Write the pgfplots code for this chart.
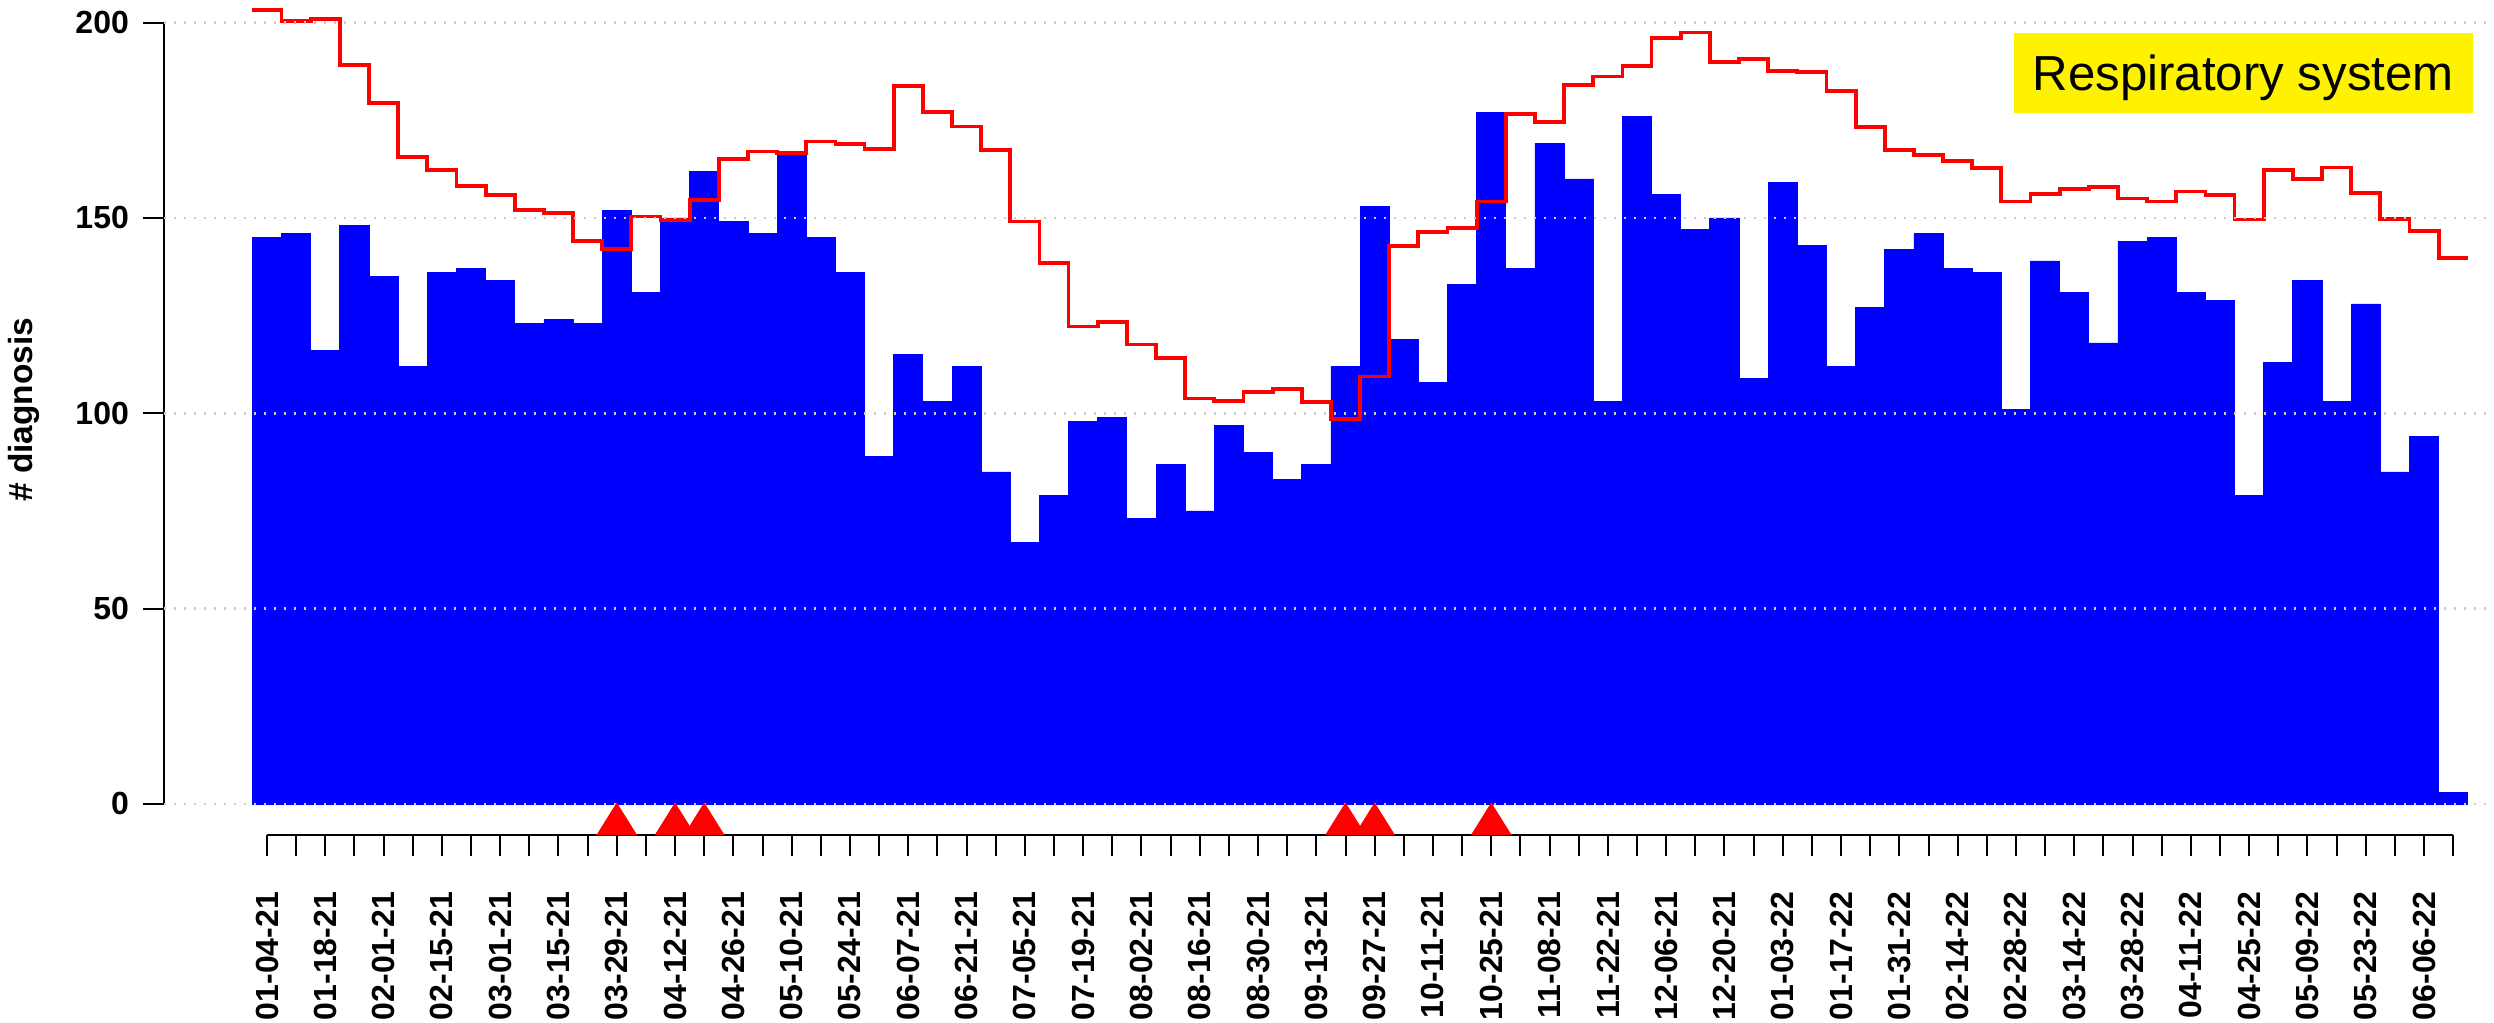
\documentclass[border=0pt]{standalone}
\usepackage{pgfplots}
\pgfplotsset{compat=1.18}
\usepackage{fontspec}
\setmainfont{Liberation Sans}

\pgfplotstableread{
x v
-0.5 145
0.5 146
1.5 116
2.5 148
3.5 135
4.5 112
5.5 136
6.5 137
7.5 134
8.5 123
9.5 124
10.5 123
11.5 152
12.5 131
13.5 150
14.5 162
15.5 149
16.5 146
17.5 166
18.5 145
19.5 136
20.5 89
21.5 115
22.5 103
23.5 112
24.5 85
25.5 67
26.5 79
27.5 98
28.5 99
29.5 73
30.5 87
31.5 75
32.5 97
33.5 90
34.5 83
35.5 87
36.5 112
37.5 153
38.5 119
39.5 108
40.5 133
41.5 177
42.5 137
43.5 169
44.5 160
45.5 103
46.5 176
47.5 156
48.5 147
49.5 150
50.5 109
51.5 159
52.5 143
53.5 112
54.5 127
55.5 142
56.5 146
57.5 137
58.5 136
59.5 101
60.5 139
61.5 131
62.5 118
63.5 144
64.5 145
65.5 131
66.5 129
67.5 79
68.5 113
69.5 134
70.5 103
71.5 128
72.5 85
73.5 94
74.5 3
75.5 3
}\bars

\pgfplotstableread{
x r
-0.5 203.2
0.5 200.5
1.5 201
2.5 189.1
3.5 179.4
4.5 165.7
5.5 162.2
6.5 158.1
7.5 155.8
8.5 152
9.5 151.2
10.5 144.2
11.5 142
12.5 150.4
13.5 149.4
14.5 154.5
15.5 165
16.5 167
17.5 166.7
18.5 169.6
19.5 169
20.5 167.6
21.5 183.8
22.5 177.2
23.5 173.4
24.5 167.5
25.5 149.1
26.5 138.5
27.5 122.2
28.5 123.4
29.5 117.6
30.5 114.2
31.5 103.8
32.5 103.1
33.5 105.5
34.5 106.3
35.5 102.8
36.5 98.5
37.5 109.4
38.5 142.8
39.5 146.4
40.5 147.4
41.5 154.2
42.5 176.6
43.5 174.6
44.5 184
45.5 186.2
46.5 188.8
47.5 196
48.5 197.5
49.5 189.9
50.5 190.7
51.5 187.6
52.5 187.3
53.5 182.4
54.5 173.3
55.5 167.5
56.5 166.1
57.5 164.6
58.5 162.7
59.5 154.2
60.5 156.2
61.5 157.5
62.5 157.9
63.5 155
64.5 154.2
65.5 156.8
66.5 155.9
67.5 149.6
68.5 162.3
69.5 159.9
70.5 162.9
71.5 156.3
72.5 149.7
73.5 146.6
74.5 139.7
75.5 139.7
}\movavg

\begin{document}
\begin{tikzpicture}
\useasboundingbox (0,0) rectangle (623.5pt,255.75pt);
\begin{axis}[
  at={(41pt,47pt)}, anchor=south west,
  scale only axis, width=582.5pt, height=208.75pt,
  xmin=-3.533, xmax=76.40, ymin=-7.94, ymax=205.8,
  clip=false,
  axis line style={draw=none},
  tick pos=left,
  tick align=outside,
  major tick length=5.25pt, minor tick length=5.25pt,
  tick style={black, line width=0.5pt},
  xtick={0,2,...,74}, minor xtick={1,3,...,75},
  xticklabels={01-04-21,01-18-21,02-01-21,02-15-21,03-01-21,03-15-21,03-29-21,04-12-21,04-26-21,05-10-21,05-24-21,06-07-21,06-21-21,07-05-21,07-19-21,08-02-21,08-16-21,08-30-21,09-13-21,09-27-21,10-11-21,10-25-21,11-08-21,11-22-21,12-06-21,12-20-21,01-03-22,01-17-22,01-31-22,02-14-22,02-28-22,03-14-22,03-28-22,04-11-22,04-25-22,05-09-22,05-23-22,06-06-22},
  xticklabel shift=5.5pt,
  ytick={0,50,100,150,200},
  ymajorgrids,
  grid style={draw=gray!40, line width=0.6pt, dash pattern=on 0.6pt off 1.9pt},
  xticklabel style={rotate=90, anchor=east, font=\bfseries\fontsize{8}{9.6}\selectfont},
  yticklabel style={font=\bfseries\fontsize{8}{9.6}\selectfont},
  /pgf/number format/assume math mode=true,
  axis on top,
]
\addplot[ybar interval, fill=blue, draw=blue, line width=0.2pt] table[x=x, y=v] {\bars};
\addplot[const plot, red, line width=0.95pt, mark=none] table[x=x, y=r] {\movavg};
\addplot[only marks, mark=triangle*, mark size=5.08pt, color=red, mark options={xscale=1.08, draw=red, fill=red}] coordinates {(12,-5.2) (14,-5.2) (15,-5.2) (37,-5.2) (38,-5.2) (42,-5.2)};
\draw[line width=0.5pt] (axis cs:0,-7.94) -- (axis cs:75,-7.94);
\draw[line width=0.5pt] (axis cs:-3.533,0) -- (axis cs:-3.533,200);
\node[fill=yellow, minimum width=114.75pt, minimum height=20pt, inner sep=0pt, text depth=0pt, font=\fontsize{12.3}{14}\selectfont] at (axis cs:67.80,187.2) {Respiratory system};
\node[rotate=90, font=\bfseries\fontsize{8.36}{10}\selectfont] at (axis cs:-8.34,100.9) {\# diagnosis};
\end{axis}
\end{tikzpicture}
\end{document}
